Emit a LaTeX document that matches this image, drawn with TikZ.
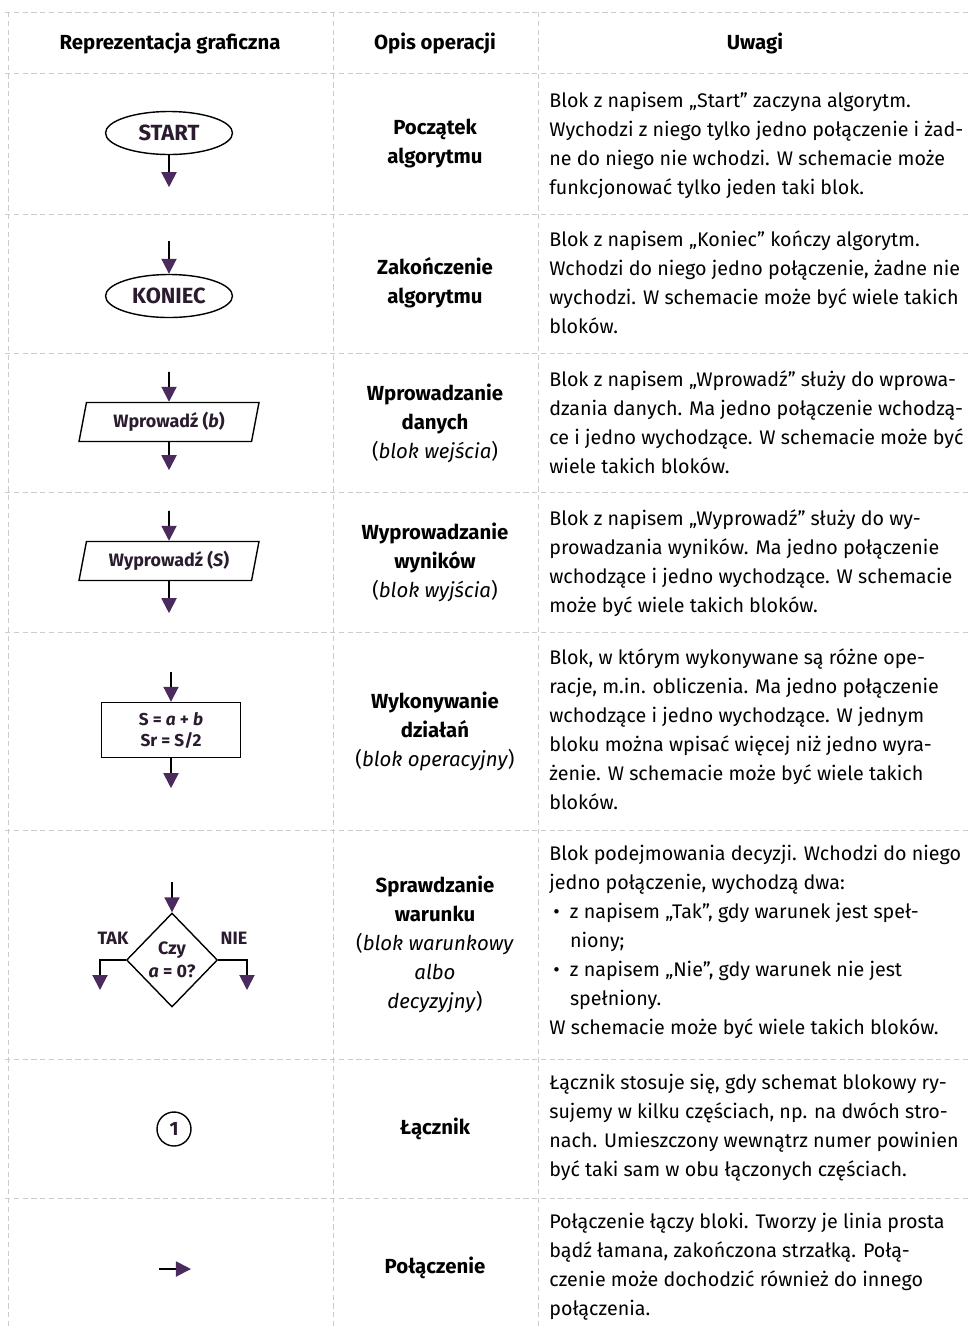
\documentclass[tikz,border=0pt]{standalone}
\usepackage{fontspec}
\setmainfont{Fira Sans}
\usepackage{xcolor}
\usepackage{tikz}
\usetikzlibrary{shapes,arrows.meta,positioning,calc,shapes.geometric}
\definecolor{tippurple}{HTML}{4B2A5E}
\definecolor{ink}{HTML}{2A1C2E}
\definecolor{rulegray}{HTML}{CCCCCC}

\begin{document}
\begin{tikzpicture}[x=0.02cm, y=-0.02cm]
    \tikzstyle{grid} = [draw=rulegray, line width=0.5pt, densely dashed]
    \tikzstyle{flow} = [draw=black, line width=1.1pt, -{Triangle[length=0.3cm, width=0.3cm, color=tippurple]}]
    \tikzstyle{shapetxt} = [text=ink, font=\fontsize{10.2}{12}\selectfont\bfseries]
    \tikzstyle{term} = [ellipse, draw=black, line width=0.8pt, fill=white, minimum width=2.54cm, minimum height=0.86cm, inner sep=0pt, shapetxt, font=\fontsize{12.5}{14}\selectfont\bfseries]
    \tikzstyle{io} = [trapezium, trapezium left angle=72, trapezium right angle=108, trapezium stretches body, draw=black, line width=0.8pt, fill=white, minimum width=3.6cm, minimum height=0.78cm, inner sep=1pt, shapetxt]
    \tikzstyle{proc} = [rectangle, draw=black, line width=0.8pt, fill=white, minimum width=2.78cm, minimum height=1.1cm, align=center, shapetxt, font=\fontsize{9.8}{12}\selectfont\bfseries]
    \tikzstyle{decision} = [diamond, draw=black, line width=0.8pt, fill=white, minimum width=1.82cm, minimum height=1.88cm, inner sep=0pt, align=center, shapetxt, font=\fontsize{10.2}{13}\selectfont\bfseries]
    \tikzstyle{joint} = [circle, draw=black, line width=0.8pt, minimum size=0.68cm, inner sep=0pt, shapetxt, font=\fontsize{11}{13}\selectfont\bfseries]
    \tikzstyle{branch} = [shapetxt]
    \tikzstyle{head} = [font=\fontsize{11.6}{14}\selectfont\bfseries]
    \tikzstyle{desc} = [align=center, font=\fontsize{11.6}{16.5}\selectfont\bfseries]
    \tikzstyle{note} = [anchor=north west, align=left, inner sep=0pt, font=\fontsize{11.2}{16.5}\selectfont]

    \useasboundingbox (0,0) rectangle (971,1330);

    \foreach \y in {12,73,214,353,492,632,830,1059,1198}
        \draw[grid] (5,\y) -- (971,\y);
    \foreach \x in {8,333,538}
        \draw[grid] (\x,12) -- (\x,1330);

    \node[head] (h-repr) at (170,43) {Reprezentacja graficzna};
    \node[head] (h-opis) at (435,43) {Opis operacji};
    \node[head] (h-uwagi) at (755,43) {Uwagi};

    % START
    \node[term] (start) at (169,133) {START};
    \coordinate[below=0.64cm of start.south] (start-out);
    \draw[flow] (start) -- (start-out);

    % KONIEC
    \node[term] (koniec) at (169,296) {KONIEC};
    \coordinate[above=0.66cm of koniec.north] (koniec-in);
    \draw[flow] (koniec-in) -- (koniec);

    % wejscie / wyjscie
    \node[io] (wejscie) at (169,422) {Wprowadź (\textit{b})};
    \coordinate[above=0.6cm of wejscie.north] (wejscie-in);
    \coordinate[below=0.56cm of wejscie.south] (wejscie-out);
    \draw[flow] (wejscie-in) -- (wejscie);
    \draw[flow] (wejscie) -- (wejscie-out);

    \node[io] (wyjscie) at (169,561) {Wyprowadź (\textit{S})};
    \coordinate[above=0.6cm of wyjscie.north] (wyjscie-in);
    \coordinate[below=0.64cm of wyjscie.south] (wyjscie-out);
    \draw[flow] (wyjscie-in) -- (wyjscie);
    \draw[flow] (wyjscie) -- (wyjscie-out);

    % operacja
    \node[proc] (dzialanie) at (171,730) {S = \textit{a} + \textit{b}\\Sr = S/2};
    \coordinate[above=0.6cm of dzialanie.north] (dzialanie-in);
    \coordinate[below=0.6cm of dzialanie.south] (dzialanie-out);
    \draw[flow] (dzialanie-in) -- (dzialanie);
    \draw[flow] (dzialanie) -- (dzialanie-out);

    % warunek
    \node[decision] (warunek) at (172,960) {Czy\\\textit{a} = 0?};
    \coordinate[above=0.6cm of warunek.north] (warunek-in);
    \coordinate (tak-out) at (100,990);
    \coordinate (nie-out) at (247,990);
    \draw[flow] (warunek-in) -- (warunek);
    \draw[flow] (warunek.west) -| (tak-out);
    \draw[flow] (warunek.east) -| (nie-out);
    \node[branch] (tak) at (113,938) {TAK};
    \node[branch] (nie) at (234,938) {NIE};

    % lacznik, polaczenie
    \node[joint] (lacznik) at (174,1129) {1};
    \coordinate (pol-a) at (159,1269);
    \coordinate[right=0.64cm of pol-a] (pol-b);
    \draw[flow] (pol-a) -- (pol-b);

    \node[desc] (d-start) at (435,144) {Początek\\algorytmu};
    \node[desc] (d-koniec) at (435,283) {Zakończenie\\algorytmu};
    \node[desc] (d-wejscie) at (435,423) {Wprowadzanie\\danych\\{\mdseries(\textit{blok wejścia})}};
    \node[desc] (d-wyjscie) at (435,562) {Wyprowadzanie\\wyników\\{\mdseries(\textit{blok wyjścia})}};
    \node[desc] (d-dzialanie) at (435,731) {Wykonywanie\\działań\\{\mdseries(\textit{blok operacyjny})}};
    \node[desc] (d-warunek) at (435,944) {Sprawdzanie\\warunku\\{\mdseries(\textit{blok warunkowy}}\\{\mdseries\textit{albo}}\\{\mdseries\textit{decyzyjny})}};
    \node[desc] (d-lacznik) at (435,1129) {Łącznik};
    \node[desc] (d-polaczenie) at (435,1268) {Połączenie};

    \node[note] (u-start) at (549,92) {Blok z napisem „Start” zaczyna algorytm.\\Wychodzi z niego tylko jedno połączenie i żad-\\ne do niego nie wchodzi. W schemacie może\\funkcjonować tylko jeden taki blok.};
    \node[note] (u-koniec) at (549,230) {Blok z napisem „Koniec” kończy algorytm.\\Wchodzi do niego jedno połączenie, żadne nie\\wychodzi. W schemacie może być wiele takich\\bloków.};
    \node[note] (u-wejscie) at (549,370) {Blok z napisem „Wprowadź” służy do wprowa-\\dzania danych. Ma jedno połączenie wchodzą-\\ce i jedno wychodzące. W schemacie może być\\wiele takich bloków.};
    \node[note] (u-wyjscie) at (549,509) {Blok z napisem „Wyprowadź” służy do wy-\\prowadzania wyników. Ma jedno połączenie\\wchodzące i jedno wychodzące. W schemacie\\może być wiele takich bloków.};
    \node[note] (u-dzialanie) at (549,648) {Blok, w którym wykonywane są różne ope-\\racje, m.in. obliczenia. Ma jedno połączenie\\wchodzące i jedno wychodzące. W jednym\\bloku można wpisać więcej niż jedno wyra-\\żenie. W schemacie może być wiele takich\\bloków.};
    \node[note] (u-warunek) at (549,845) {Blok podejmowania decyzji. Wchodzi do niego\\jedno połączenie, wychodzą dwa:\\\hspace*{0.2em}\makebox[0.85em][l]{•}z napisem „Tak”, gdy warunek jest speł-\\\hspace*{1.05em}niony;\\\hspace*{0.2em}\makebox[0.85em][l]{•}z napisem „Nie”, gdy warunek nie jest\\\hspace*{1.05em}spełniony.\\W schemacie może być wiele takich bloków.};
    \node[note] (u-lacznik) at (549,1074) {Łącznik stosuje się, gdy schemat blokowy ry-\\sujemy w kilku częściach, np. na dwóch stro-\\nach. Umieszczony wewnątrz numer powinien\\być taki sam w obu łączonych częściach.};
    \node[note] (u-polaczenie) at (549,1213) {Połączenie łączy bloki. Tworzy je linia prosta\\bądź łamana, zakończona strzałką. Połą-\\czenie może dochodzić również do innego\\połączenia.};
\end{tikzpicture}
\end{document}
